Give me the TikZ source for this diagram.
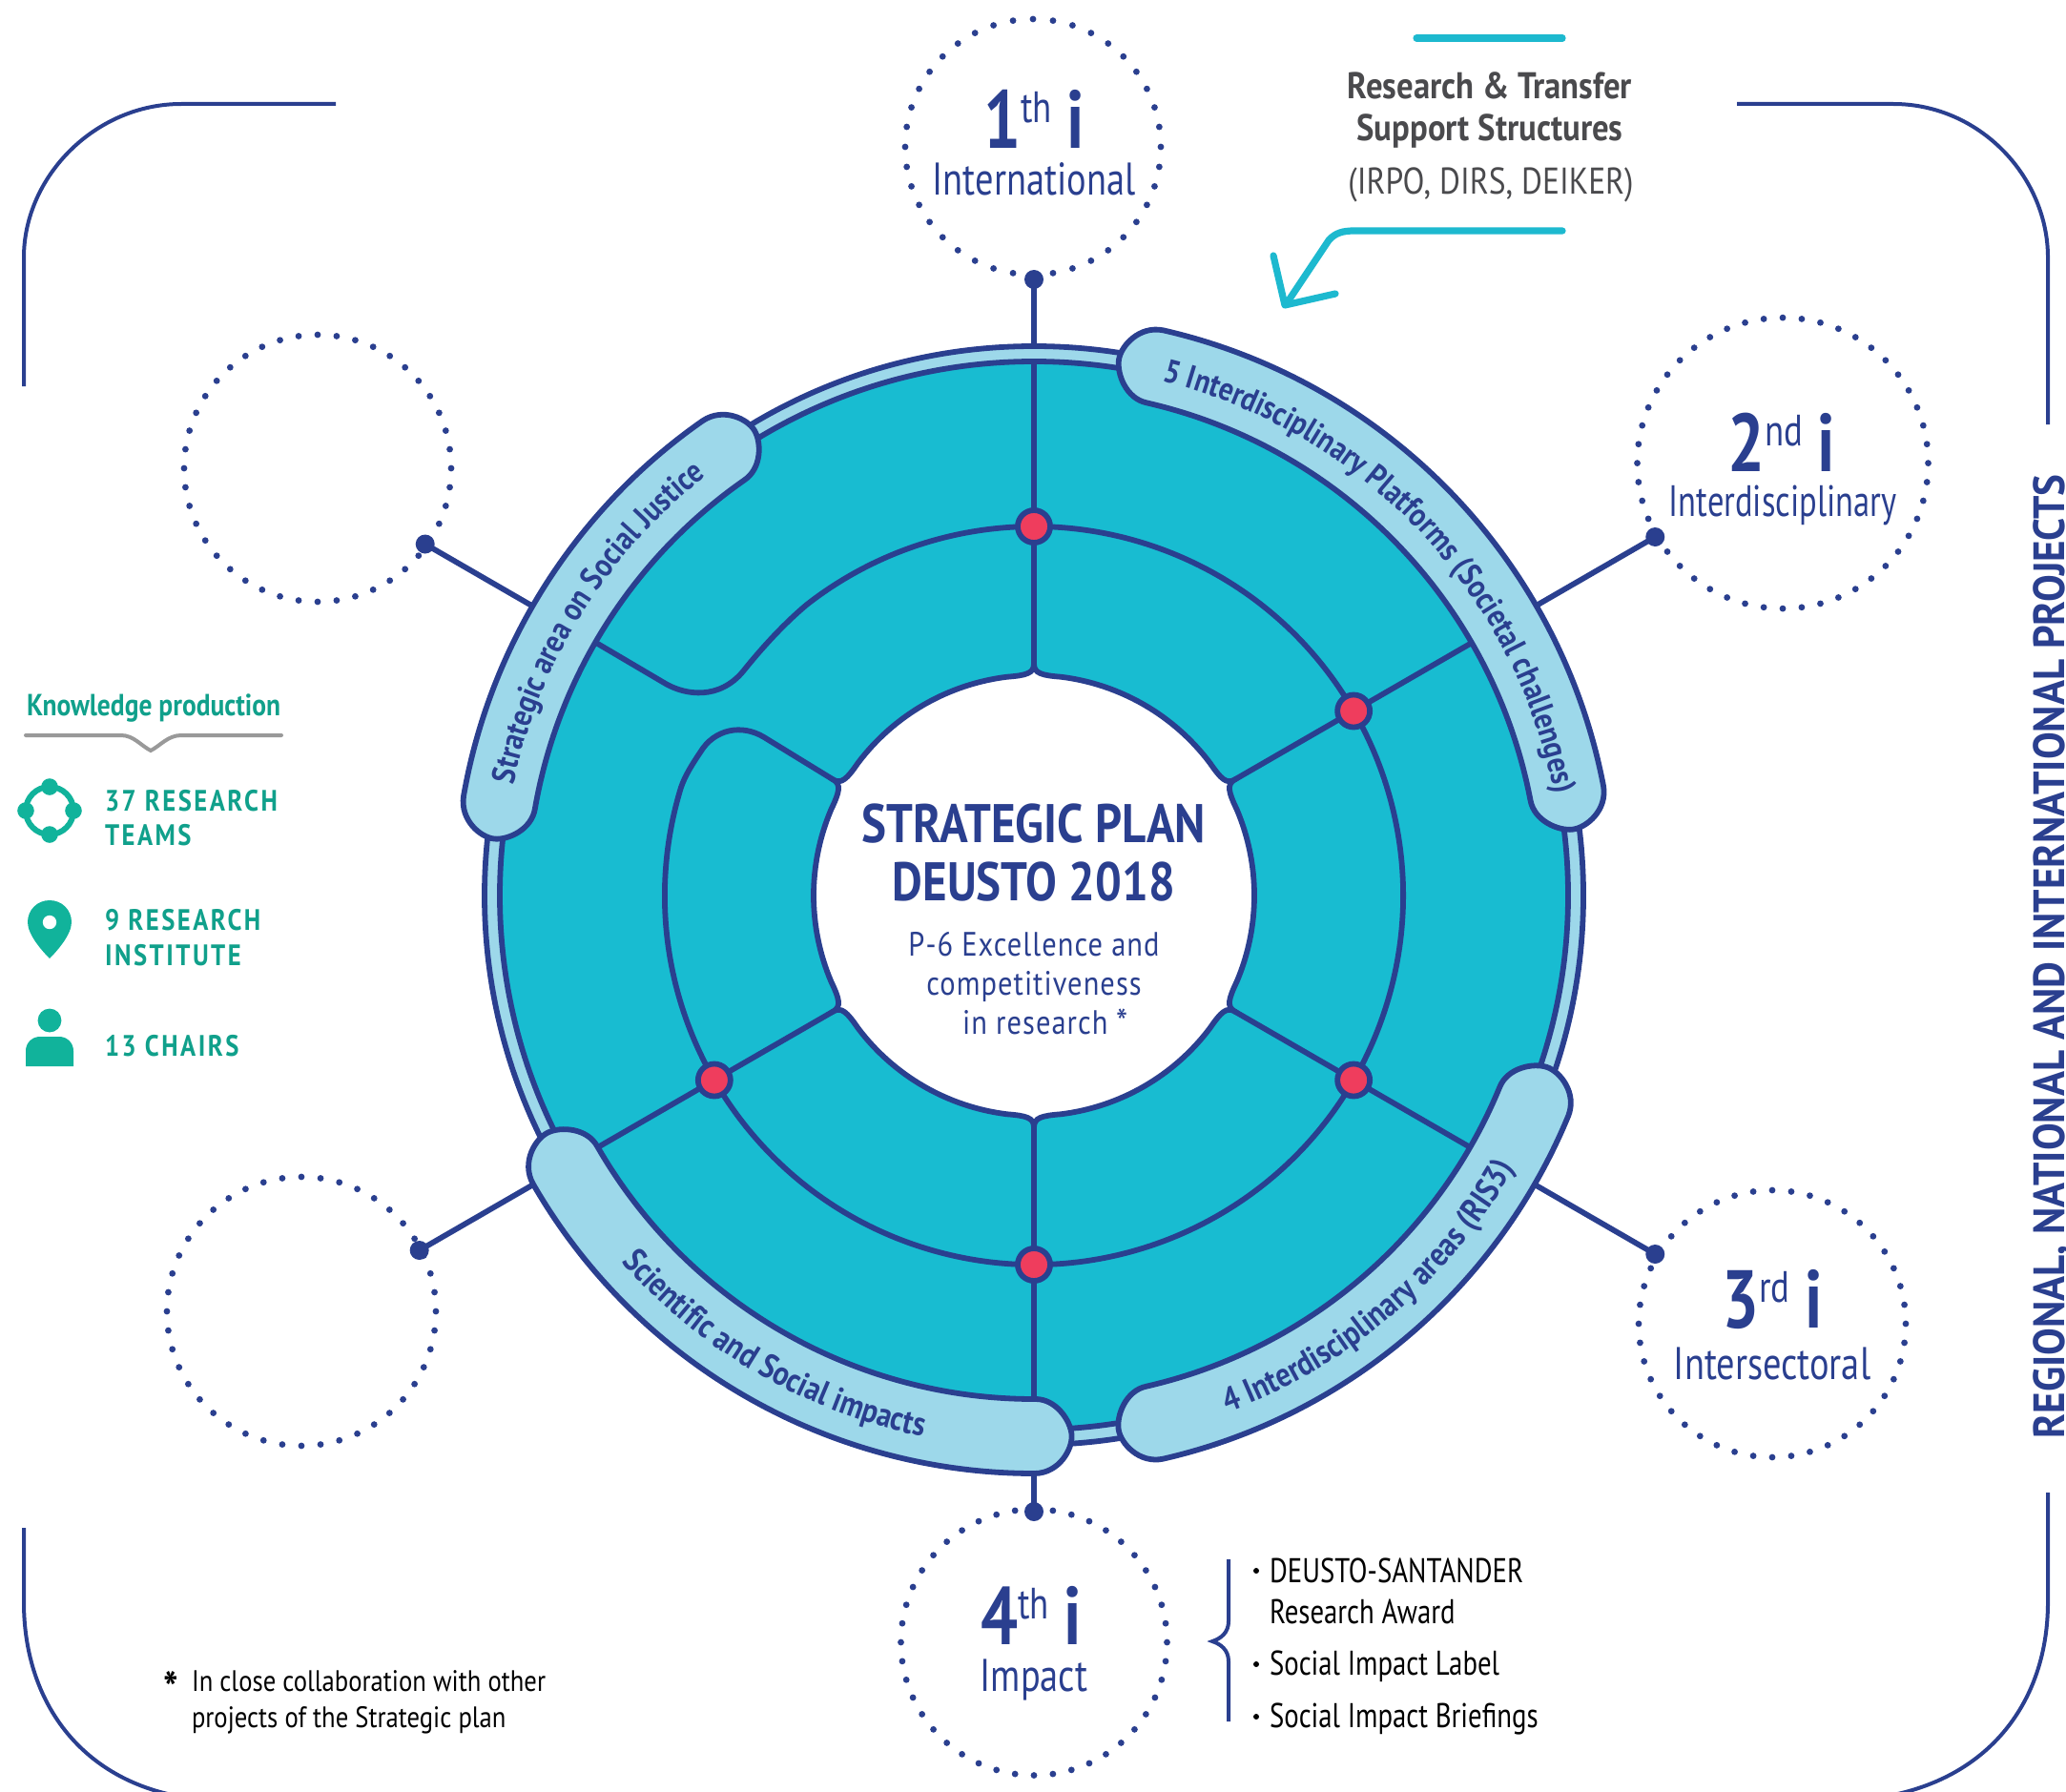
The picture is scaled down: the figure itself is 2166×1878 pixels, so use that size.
\documentclass[tikz,border=0pt]{standalone}
\usepackage{fontspec}
\usetikzlibrary{decorations.text,calc}
\newfontfamily\narrow[FakeStretch=0.80]{PT Sans}
\newfontfamily\nA[FakeStretch=0.86]{PT Sans}
\newfontfamily\nB[FakeStretch=0.89]{PT Sans}
\newfontfamily\nI[FakeStretch=0.75]{PT Sans}
\newfontfamily\sidef[FakeStretch=0.935]{PT Sans}
\newfontfamily\semi[FakeStretch=0.86,LetterSpace=3]{PT Sans}
\newfontfamily\wide[FakeStretch=0.86,LetterSpace=8]{PT Sans}
\newcommand\fs[1]{\fontsize{#1}{#1}\selectfont}
\definecolor{nblue}{HTML}{2A3F8F}
\definecolor{tealf}{HTML}{18BCD1}
\definecolor{lblue}{HTML}{9DD8EA}
\definecolor{redd}{HTML}{EF3D5D}
\definecolor{gtext}{HTML}{10A08B}
\definecolor{gicon}{HTML}{11B39B}
\definecolor{cyanl}{HTML}{1DB9CF}
\definecolor{graytx}{HTML}{4A4A4D}
\tikzset{
  ln/.style={draw=nblue,line width=2.9pt},
  frameln/.style={draw=nblue,line width=2pt},
  bigdot/.style={circle,fill=nblue,inner sep=0pt,minimum size=10pt},
  reddot/.style={circle,fill=redd,draw=nblue,line width=2.9pt,inner sep=0pt,minimum size=17pt},
  txt/.style={inner sep=0pt,outer sep=0pt,anchor=base},
  txtw/.style={inner sep=0pt,outer sep=0pt,anchor=base west},
}
\newcommand\dotcirc[4]{\foreach \k in {1,...,#4}{\fill[nblue] ($(#1,#2)+({#3*cos(90+360/#4*\k)},{#3*sin(90+360/#4*\k)})$) circle[radius=1.7pt];}}
% band: tip angles a1<a2, r inner, r outer, half-cap angle
\newcommand\band[5]{%
  \pgfmathsetmacro\rmid{(#3+#4)/2}\pgfmathsetmacro\rin{#3+.62*(\rmid-#3)}\pgfmathsetmacro\rou{#4-.62*(#4-\rmid)}%
  \path[ln,fill=lblue] (#1+#5:#4) arc[start angle=#1+#5,end angle=#2-#5,radius=#4]
   .. controls (#2-.38*#5:#4) and (#2:\rou) .. (#2:\rmid)
   .. controls (#2:\rin) and (#2-.38*#5:#3) .. (#2-#5:#3)
   arc[start angle=#2-#5,end angle=#1+#5,radius=#3]
   .. controls (#1+.38*#5:#3) and (#1:\rin) .. (#1:\rmid)
   .. controls (#1:\rou) and (#1+.38*#5:#4) .. (#1+#5:#4) -- cycle;}
\newcommand\bandf{\nA\bfseries\fs{17.8}\color{nblue}}
\newcommand\bandg{\nA\bfseries\fs{17.2}\color{nblue}}
\newcommand\numlab[3]{\narrow\bfseries\fs{43}#1\raisebox{13.5pt}{\mdseries\fs{23}#2}\hspace{#3}i}
\begin{document}
\begin{tikzpicture}[x=.5pt,y=-.5pt]
\useasboundingbox (0,0) rectangle (2166,1878);
% frame
\path[frameln] (352,109) -- (190,109) .. controls (100,109) and (25,185) .. (25,270) -- (25,405);
\path[frameln] (1821,109) -- (1985,109) .. controls (2075,109) and (2147,185) .. (2147,270) -- (2147,445);
\path[frameln] (25,1602) -- (25,1680) .. controls (25,1780) and (80,1860) .. (180,1882);
\path[frameln] (2147,1565) -- (2147,1680) .. controls (2147,1780) and (2090,1860) .. (1985,1882);
\node[txt,rotate=90,text=nblue] (sidet) at (2164,1003) {\sidef\bfseries\fs{23}REGIONAL, NATIONAL AND INTERNATIONAL PROJECTS};
% dotted circles
\dotcirc{1083}{154}{134}{40}
\dotcirc{1869}{485.6}{152.5}{48}
\dotcirc{1858}{1388}{140}{44}
\dotcirc{1084}{1722}{139.5}{44}
\dotcirc{333}{491}{140}{44}
\dotcirc{316}{1375}{141}{44}
% wheel
\begin{scope}[shift={(1084,939)},y=.5pt]
  \coordinate (c1) at (90:570); \coordinate (c2) at (30:600); \coordinate (c3) at (330:600);
  \coordinate (c4) at (270:600); \coordinate (c5) at (210:600); \coordinate (c6) at (150:600);
  \node[bigdot] (d1) at (90:646) {};
  \node[bigdot] (d2) at (30:752) {};
  \node[bigdot] (d3) at (330:752) {};
  \node[bigdot] (d4) at (270:646) {};
  \node[bigdot] (d5) at (210:744) {};
  \node[bigdot] (d6) at (150:737) {};
  \foreach \i in {1,...,6}{\draw[ln] (c\i) -- (d\i.center);}
  \path[ln,fill=lblue] (0,0) circle[radius=576];
  \path[ln,fill=tealf] (0,0) circle[radius=560];
  % mid ring with the open corner at 150 degrees
  \path[ln] (150:243) -- (-283,166) .. controls (-306,180) and (-335,175) .. (-350,150)
     .. controls (-360,135) and (-366,125) .. (163:387)
     arc[start angle=163,end angle=488,radius=387]
     .. controls (-262,285) and (-285,260) .. (-305,235)
     .. controls (-330,205) and (-365,210) .. (-386,222) -- (150:530);
  \foreach \a/\r in {90/560,30/535,330/535,270/535,210/535}{\draw[ln] (\a:243) -- (\a:\r);}
  % hole
  \path[ln,fill=white] (90:243)
    \foreach \a [evaluate=\a as \b using \a+60] in {90,150,210,270,330,390}{
      .. controls (\a:233) and (\a+2:231) .. (\a+7:231)
      arc[start angle=\a+7,end angle=\b-7,radius=231]
      .. controls (\b-2:231) and (\b:233) .. (\b:243)
    } -- cycle;
  % bands
  \band{7}{81}{530}{608}{3.9}
  \band{121}{174}{531}{607}{3.9}
  \band{206}{274}{528}{606}{3.9}
  \band{-81}{-18.5}{528}{606}{3.9}
  \foreach \a/\n in {90/r1,30/r2,330/r3,270/r4,210/r5}{\node[reddot] (\n) at (\a:387) {};}
  % band texts
  \path[decorate,decoration={text along path,text align=center,text={|\bandg|5 Interdisciplinary Platforms (Societal challenges)}}]
     (77:556) arc[start angle=77,end angle=10,radius=556];
  \path[decorate,decoration={text along path,text align=center,text={|\bandg|Strategic area on Social Justice}}]
     (168:558) arc[start angle=168,end angle=128,radius=558];
  \path[decorate,decoration={text along path,text align=center,text={|\bandf|Scientific and Social impacts}}]
     (220:579) arc[start angle=220,end angle=260,radius=579];
  \path[decorate,decoration={text along path,text align=center,text={|\bandf|4 Interdisciplinary areas (RIS3)}}]
     (-70:579) arc[start angle=-70,end angle=-29,radius=579];
\end{scope}
% centre text
\node[txt,text=nblue] (t1) at (1084,883) {\nA\bfseries\fs{28.5}STRATEGIC PLAN};
\node[txt,text=nblue] (t2) at (1084,944) {\nA\bfseries\fs{28.5}DEUSTO 2018};
\node[txt,text=nblue] (t3) at (1084,1002) {\semi\fs{17.7}P-6 Excellence and};
\node[txt,text=nblue] (t4) at (1084,1043) {\semi\fs{17.7}competitiveness};
\node[txt,text=nblue] (t5) at (1096,1084) {\semi\fs{17.7}in research \raisebox{-1pt}{\fs{20}*}};
% the i labels
\node[txtw,text=nblue] (i1) at (1031,156) {\numlab{1}{th}{8pt}};
\node[txt,text=nblue] (w1) at (1084,205) {\narrow\fs{24}International};
\node[txtw,text=nblue] (i2) at (1811,494) {\numlab{2}{nd}{8pt}};
\node[txt,text=nblue] (w2) at (1869,541) {\nI\fs{23}Interdisciplinary};
\node[txtw,text=nblue] (i3) at (1805,1392) {\numlab{3}{rd}{8pt}};
\node[txt,text=nblue] (w3) at (1858,1446) {\narrow\fs{24}Intersectoral};
\node[txtw,text=nblue] (i4) at (1028,1724) {\numlab{4}{th}{8pt}};
\node[txt,text=nblue] (w4) at (1084,1773) {\narrow\fs{24}Impact};
% research & transfer
\draw[cyanl,line width=3.6pt,line cap=round] (1485,40) -- (1638,40);
\node[txt,text=graytx] (r1) at (1562,104) {\nB\bfseries\fs{19.5}Research \& Transfer};
\node[txt,text=graytx] (r2) at (1562,148) {\nB\bfseries\fs{19.5}Support Structures};
\node[txt,text=graytx] (r3) at (1563,204) {\nA\fs{19.5}(IRPO, DIRS, DEIKER)};
\draw[cyanl,line width=3.6pt,line cap=round] (1638,242) -- (1420,242) .. controls (1408,242) and (1400,244) .. (1393,252) -- (1349,318);
\draw[cyanl,line width=3.6pt,line cap=round,line join=round] (1335,268) -- (1347,320) -- (1400,308);
% knowledge production
\node[txtw,text=gtext] (k0) at (28,750) {\nA\bfseries\fs{16}Knowledge production};
\draw[gray!80,line width=2pt,line cap=round] (27,771) -- (127,771) .. controls (140,771) and (148,782) .. (158,787) .. controls (168,782) and (176,771) .. (190,771) -- (295,771);
\draw[gicon,line width=3pt] (52,850) circle[radius=25];
\foreach \dx/\dy in {0/-25,25/0,0/25,-25/0}{\fill[gicon] (52+\dx,850+\dy) circle[radius=4.4pt];}
\fill[gicon] (29,967) .. controls (29,954) and (39,944) .. (52,944) .. controls (65,944) and (75,954) .. (75,967) .. controls (75,980) and (60,997) .. (52,1005) .. controls (44,997) and (29,980) .. (29,967) -- cycle;
\fill[white] (52,967) circle[radius=3.6pt];
\fill[gicon] (52,1070) circle[radius=6.2pt];
\fill[gicon] (27,1118) -- (27,1102) .. controls (27,1093) and (34,1087) .. (42,1087) -- (62,1087) .. controls (70,1087) and (77,1093) .. (77,1102) -- (77,1118) -- cycle;
\node[txtw,text=gtext] (k1) at (110,850) {\wide\bfseries\fs{15.5}37 RESEARCH};
\node[txtw,text=gtext] (k2) at (110,886) {\wide\bfseries\fs{15.5}TEAMS};
\node[txtw,text=gtext] (k3) at (110,975) {\wide\bfseries\fs{15.5}9 RESEARCH};
\node[txtw,text=gtext] (k4) at (110,1012) {\wide\bfseries\fs{15.5}INSTITUTE};
\node[txtw,text=gtext] (k5) at (110,1107) {\wide\bfseries\fs{15.5}13 CHAIRS};
% brace + list
\draw[nblue,line width=2pt] (1288,1635) -- (1288,1700) .. controls (1288,1712) and (1280,1718) .. (1271,1721) .. controls (1280,1724) and (1288,1730) .. (1288,1742) -- (1288,1805);
\foreach \y in {1647,1745,1800}{\fill[black] (1317,\y) circle[radius=1.5pt];}
\node[txtw] (l1) at (1331,1659) {\narrow\fs{18}DEUSTO-SANTANDER};
\node[txtw] (l2) at (1331,1702) {\narrow\fs{18}Research Award};
\node[txtw] (l3) at (1331,1756) {\narrow\fs{18}Social Impact Label};
\node[txtw] (l4) at (1331,1811) {\narrow\fs{18}Social Impact Briefings};
% footnote
\node[txt] (f0) at (179,1787) {\nA\bfseries\fs{24}*};
\node[txtw] (f1) at (201,1773) {\nA\fs{15.5}In close collaboration with other};
\node[txtw] (f2) at (201,1811) {\nA\fs{15.5}projects of the Strategic plan};
\end{tikzpicture}
\end{document}
